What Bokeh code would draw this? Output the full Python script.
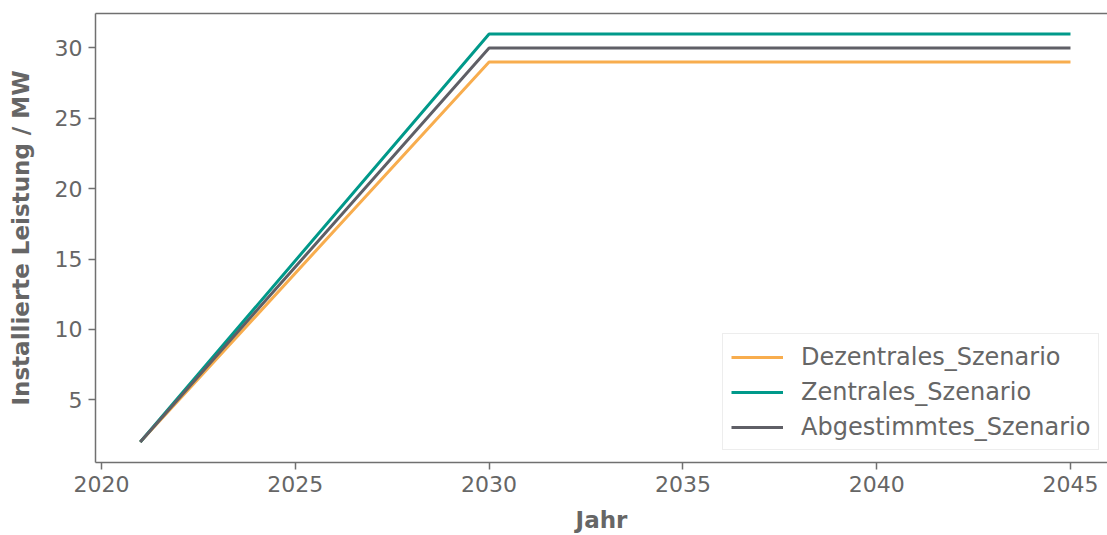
from bokeh.plotting import figure
from bokeh.models import Range1d, LinearAxis, FixedTicker, Legend, LegendItem
from bokeh.embed import file_html
from bokeh.resources import INLINE

years = [2021, 2030, 2045]
dezentral = [2, 29, 29]
zentral = [2, 31, 31]
abgestimmt = [2, 30, 30]
x_ticks = [2020, 2025, 2030, 2035, 2040, 2045]
y_ticks = [5, 10, 15, 20, 25, 30]

FONT = "DejaVu Sans"
TXT = "#666666"
AX = "#707070"

p = figure(width=1107, height=535, output_backend="svg", toolbar_location=None,
           x_range=Range1d(2019.845, 2045.955), y_range=Range1d(0.55, 32.45),
           min_border_left=95, min_border_right=0, min_border_bottom=73, min_border_top=13,
           x_axis_label="Jahr", y_axis_label="Installierte Leistung / MW")
p.outline_line_color = None
p.grid.grid_line_color = None
p.background_fill_color = "white"

r1 = p.line(years, dezentral, line_color="#f8ad4e", line_width=3)
r2 = p.line(years, zentral, line_color="#00998a", line_width=3)
r3 = p.line(years, abgestimmt, line_color="#5f5f66", line_width=3)

for ax in (p.xaxis[0], p.yaxis[0]):
    ax.axis_line_color = AX
    ax.axis_line_width = 1.5
    ax.major_tick_line_color = AX
    ax.major_tick_line_width = 1.5
    ax.major_tick_out = 7
    ax.major_tick_in = 0
    ax.minor_tick_line_color = None
    ax.major_label_text_font = FONT
    ax.major_label_text_font_size = "22px"
    ax.major_label_text_color = TXT
    ax.axis_label_text_font = FONT
    ax.axis_label_text_font_size = "23px"
    ax.axis_label_text_font_style = "bold"
    ax.axis_label_text_color = TXT

p.xaxis[0].ticker = FixedTicker(ticks=x_ticks)
p.yaxis[0].ticker = FixedTicker(ticks=y_ticks)
p.xaxis[0].major_label_standoff = 6
p.yaxis[0].major_label_standoff = 6
p.xaxis[0].axis_label_standoff = 12
p.yaxis[0].axis_label_standoff = 18

top = LinearAxis(ticker=FixedTicker(ticks=[]), axis_line_color=AX, axis_line_width=1.5,
                 major_tick_line_color=None, minor_tick_line_color=None)
p.add_layout(top, "above")

legend = Legend(items=[LegendItem(label="Dezentrales_Szenario", renderers=[r1]),
                       LegendItem(label="Zentrales_Szenario", renderers=[r2]),
                       LegendItem(label="Abgestimmtes_Szenario", renderers=[r3])],
                location=(627, 12))
legend.label_text_font = FONT
legend.label_text_font_size = "24px"
legend.label_text_color = TXT
legend.glyph_width = 52
legend.label_standoff = 18
legend.padding = 8
legend.spacing = 6
legend.label_height = 29
legend.margin = 0
legend.border_line_color = "#dcdcdc"
legend.border_line_width = 1.5
legend.background_fill_alpha = 0.85
p.add_layout(legend, "center")

open("out.html", "w").write(file_html(p, INLINE))
